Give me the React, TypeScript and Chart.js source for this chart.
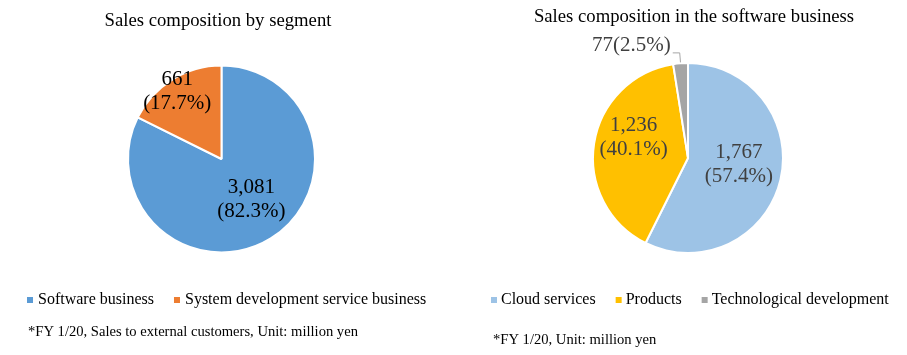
import React, { useEffect, useRef } from "react";
import { Chart, registerables } from "chart.js";

Chart.register(...registerables);

// ---------- data ----------
const segmentTitle = "Sales composition by segment";
const segmentLabels = ["Software business", "System development service business"];
const segmentValues = [3081, 661];
const segmentPercents = ["82.3%", "17.7%"];
const segmentNote = "*FY 1/20, Sales to external customers, Unit: million yen";

const softwareTitle = "Sales composition in the software business";
const softwareLabels = ["Cloud services", "Products", "Technological development"];
const softwareValues = [1767, 1236, 77];
const softwarePercents = ["57.4%", "40.1%", "2.5%"];
const softwareNote = "*FY 1/20, Unit: million yen";

// ---------- styles ----------
const FONT = '"Times New Roman", "Liberation Serif", Times, serif';

type LabelPlace = { frac: number; shift: number; outside?: boolean };

type PieCfg = {
  left: number;
  width: number;
  height: number;
  padding: { left: number; right: number; top: number; bottom: number };
  title: string;
  titleX: number;
  titleY: number;
  labels: string[];
  values: number[];
  percents: string[];
  colors: string[];
  labelColor: string;
  labelPlaces: LabelPlace[];
  legendX: number;
  legendY: number;
  legendGap: number;
  note: string;
  noteX: number;
  noteY: number;
};

const fmt = (v: number) => v.toLocaleString("en-US");

function makePlugin(cfg: PieCfg) {
  return {
    id: "customText",
    afterDraw(chart: any) {
      const ctx: CanvasRenderingContext2D = chart.ctx;
      ctx.save();
      // title
      ctx.font = `18.7px ${FONT}`;
      ctx.fillStyle = "#000000";
      ctx.textAlign = "center";
      ctx.textBaseline = "middle";
      ctx.fillText(cfg.title, cfg.titleX, cfg.titleY);

      // legend
      ctx.font = `16px ${FONT}`;
      ctx.textAlign = "left";
      let x = cfg.legendX;
      cfg.labels.forEach((l, i) => {
        ctx.fillStyle = cfg.colors[i];
        ctx.fillRect(x, cfg.legendY - 3, 6, 6);
        x += 6 + cfg.legendGap;
        ctx.fillStyle = "#000000";
        ctx.fillText(l, x, cfg.legendY);
        x += ctx.measureText(l).width + 20;
      });

      // footnote
      ctx.font = `14.6px ${FONT}`;
      ctx.fillStyle = "#000000";
      ctx.fillText(cfg.note, cfg.noteX, cfg.noteY);

      // data labels
      const meta = chart.getDatasetMeta(0);
      meta.data.forEach((arc: any, i: number) => {
        const p = arc.getProps(["x", "y", "startAngle", "endAngle", "outerRadius"], true);
        const place = cfg.labelPlaces[i];
        const mid = (p.startAngle + p.endAngle) / 2;
        const valText = fmt(cfg.values[i]);
        const pctText = `(${cfg.percents[i]})`;
        ctx.font = `21px ${FONT}`;
        ctx.fillStyle = cfg.labelColor;
        if (place.outside) {
          const sx = p.x + Math.cos(mid) * p.outerRadius * 1.01;
          const sy = p.y + Math.sin(mid) * p.outerRadius * 1.01;
          const ex = p.x + Math.cos(mid) * p.outerRadius * place.frac;
          const ey = p.y + Math.sin(mid) * p.outerRadius * place.frac;
          ctx.strokeStyle = "#a6a6a6";
          ctx.lineWidth = 1;
          ctx.beginPath();
          ctx.moveTo(sx, sy);
          ctx.lineTo(ex, ey);
          ctx.lineTo(ex - 7, ey);
          ctx.stroke();
          ctx.textAlign = "right";
          ctx.textBaseline = "middle";
          ctx.fillText(`${valText}${pctText}`, ex - 9, ey - 7);
        } else {
          const a = mid + (place.shift * Math.PI) / 180;
          const cx = p.x + Math.cos(a) * p.outerRadius * place.frac;
          const cy = p.y + Math.sin(a) * p.outerRadius * place.frac;
          ctx.textAlign = "center";
          ctx.textBaseline = "middle";
          ctx.fillText(valText, cx, cy - 12);
          ctx.fillText(pctText, cx, cy + 12);
        }
      });
      ctx.restore();
    },
  };
}

function PieCanvas({ cfg }: { cfg: PieCfg }) {
  const ref = useRef<HTMLCanvasElement | null>(null);
  useEffect(() => {
    if (!ref.current) return;
    const chart = new Chart(ref.current, {
      type: "pie",
      data: {
        labels: cfg.labels,
        datasets: [
          {
            data: cfg.values,
            backgroundColor: cfg.colors,
            borderColor: "#ffffff",
            borderWidth: 2,
          },
        ],
      },
      options: {
        responsive: false,
        animation: false,
        devicePixelRatio: 1,
        layout: { padding: cfg.padding },
        plugins: {
          legend: { display: false },
          title: { display: false },
          tooltip: { enabled: false },
        },
      },
      plugins: [makePlugin(cfg)],
    } as any);
    return () => chart.destroy();
  }, []);
  return (
    <canvas
      ref={ref}
      width={cfg.width}
      height={cfg.height}
      style={{ position: "absolute", left: cfg.left, top: 0, width: cfg.width, height: cfg.height }}
    />
  );
}

const leftCfg: PieCfg = {
  left: 0,
  width: 453,
  height: 355,
  padding: { left: 127, right: 137, top: 64, bottom: 101 },
  title: segmentTitle,
  titleX: 218,
  titleY: 21,
  labels: segmentLabels,
  values: segmentValues,
  percents: segmentPercents,
  colors: ["#5b9bd5", "#ed7d31"],
  labelColor: "#000000",
  labelPlaces: [
    { frac: 0.536, shift: -4.7 },
    { frac: 0.86, shift: -1.6 },
  ],
  legendX: 27,
  legendY: 300,
  legendGap: 5,
  note: segmentNote,
  noteX: 28,
  noteY: 332,
};

const rightCfg: PieCfg = {
  left: 453,
  width: 454,
  height: 355,
  padding: { left: 139, right: 123, top: 62, bottom: 101 },
  title: softwareTitle,
  titleX: 241,
  titleY: 17,
  labels: softwareLabels,
  values: softwareValues,
  percents: softwarePercents,
  colors: ["#9dc3e6", "#ffc000", "#a5a5a5"],
  labelColor: "#404040",
  labelPlaces: [
    { frac: 0.54, shift: -6 },
    { frac: 0.61, shift: 11.5 },
    { frac: 1.11, shift: 0, outside: true },
  ],
  legendX: 38,
  legendY: 300,
  legendGap: 4,
  note: softwareNote,
  noteX: 40,
  noteY: 340,
};

export default function App() {
  return (
    <div style={{ position: "absolute", left: 0, top: 0, width: 907, height: 355, background: "#ffffff" }}>
      <PieCanvas cfg={leftCfg} />
      <PieCanvas cfg={rightCfg} />
    </div>
  );
}
